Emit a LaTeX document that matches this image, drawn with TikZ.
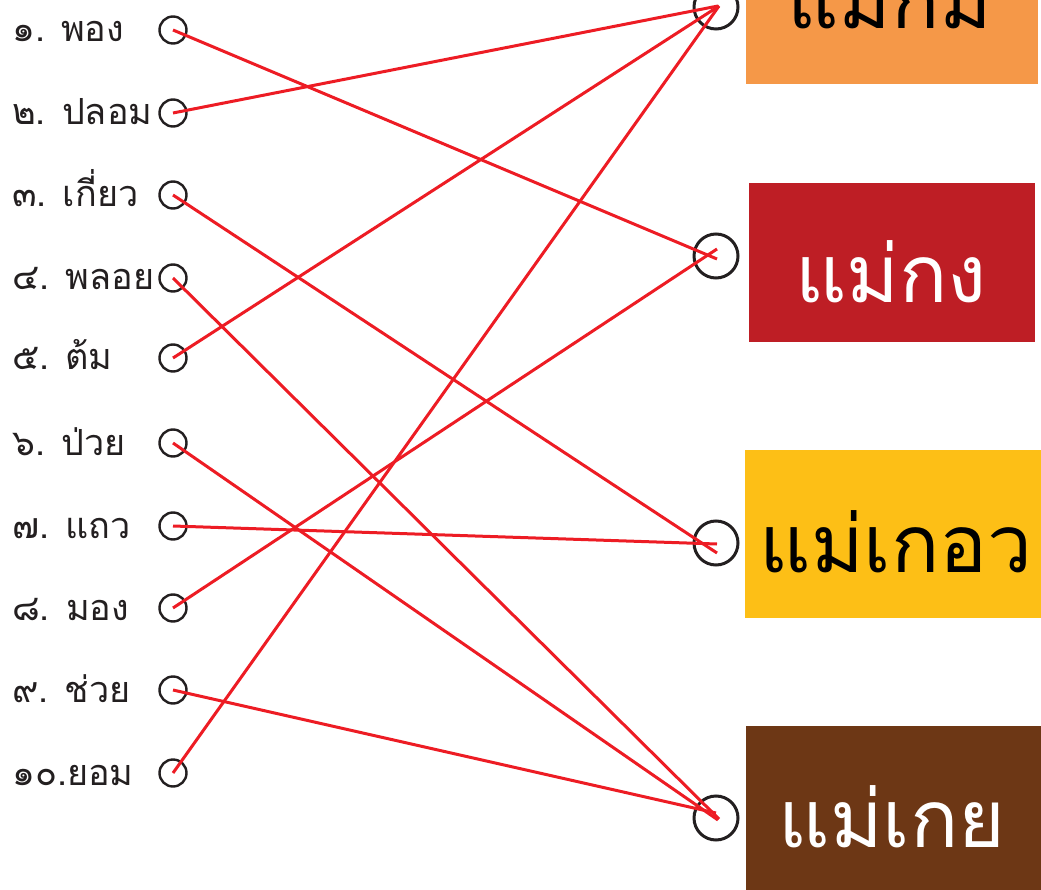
\documentclass[tikz,border=0pt]{standalone}
\usepackage{fontspec}
\newfontfamily\thaifont[Script=Thai]{Loma}
\definecolor{lred}{HTML}{ED1C24}
\definecolor{ring}{HTML}{231F20}
\definecolor{borange}{HTML}{F59848}
\definecolor{bred}{HTML}{BE1E25}
\definecolor{byellow}{HTML}{FDBF16}
\definecolor{bbrown}{HTML}{6D3715}
\begin{document}
\begin{tikzpicture}[x=1pt,y=-1pt,
  lab/.style={anchor=base west,inner sep=0pt,font=\thaifont\fontsize{36}{40}\selectfont,text=ring},
  dotl/.style={circle,draw=ring,line width=2.4pt,minimum size=27pt,inner sep=0pt},
  dotr/.style={circle,draw=ring,line width=3pt,minimum size=44pt,inner sep=0pt},
  box/.style={rectangle,inner sep=0pt,anchor=north west},
  big/.style={anchor=base,inner sep=0pt,font=\thaifont\fontsize{80}{84}\selectfont},
  link/.style={draw=lred,line width=3pt}]
\useasboundingbox (0,0) rectangle (1041,890);
% boxes
\node[box,fill=borange,minimum width=292pt,minimum height=184pt] (b1) at (746,-100) {};
\node[box,fill=bred,minimum width=286pt,minimum height=159pt] (b2) at (749,183) {};
\node[box,fill=byellow,minimum width=300pt,minimum height=168pt] (b3) at (745,450) {};
\node[box,fill=bbrown,minimum width=300pt,minimum height=170pt] (b4) at (746,726) {};
\node[big,text=black] (t1) at (890,29) {แม่กม};
\node[big,text=white] (t2) at (891,303) {แม่กง};
\node[big,text=black] (t3) at (896,572) {แม่เกอว};
\node[big,text=white] (t4) at (892,847) {แม่เกย};
% right circles
\node[dotr] (r1) at (716,7) {};
\node[dotr] (r2) at (716,256) {};
\node[dotr] (r3) at (716,543) {};
\node[dotr] (r4) at (716,818) {};
% left labels and circles
\foreach \i/\y/\t in {1/30/{๑. พอง},2/113/{๒. ปลอม},3/195/{๓. เกี่ยว},4/278/{๔. พลอย},5/358/{๕. ต้ม},6/443/{๖. ป่วย},7/526/{๗. แถว},8/608/{๘. มอง},9/690/{๙. ช่วย},10/773/{๑๐.ยอม}}{
  \node[lab] (l\i) at (12,\y+12) {\t};
  \node[dotl] (c\i) at (173,\y) {};
}
% links
\draw[link] (c1.center) -- ([shift={(1pt,-3pt)}]r2.center);
\draw[link] (c2.center) -- ([shift={(2pt,1pt)}]r1.center);
\draw[link] (c3.center) -- ([shift={(1pt,-10pt)}]r3.center);
\draw[link] (c4.center) -- ([shift={(3pt,-1pt)}]r4.center);
\draw[link] (c5.center) -- ([shift={(3pt,1pt)}]r1.center);
\draw[link] (c6.center) -- ([shift={(2pt,-2pt)}]r4.center);
\draw[link] (c7.center) -- ([shift={(1pt,-1pt)}]r3.center);
\draw[link] (c8.center) -- ([shift={(1pt,7pt)}]r2.center);
\draw[link] (c9.center) -- ([shift={(0pt,5pt)}]r4.center);
\draw[link] (c10.center) -- ([shift={(3pt,1pt)}]r1.center);
\end{tikzpicture}
\end{document}
